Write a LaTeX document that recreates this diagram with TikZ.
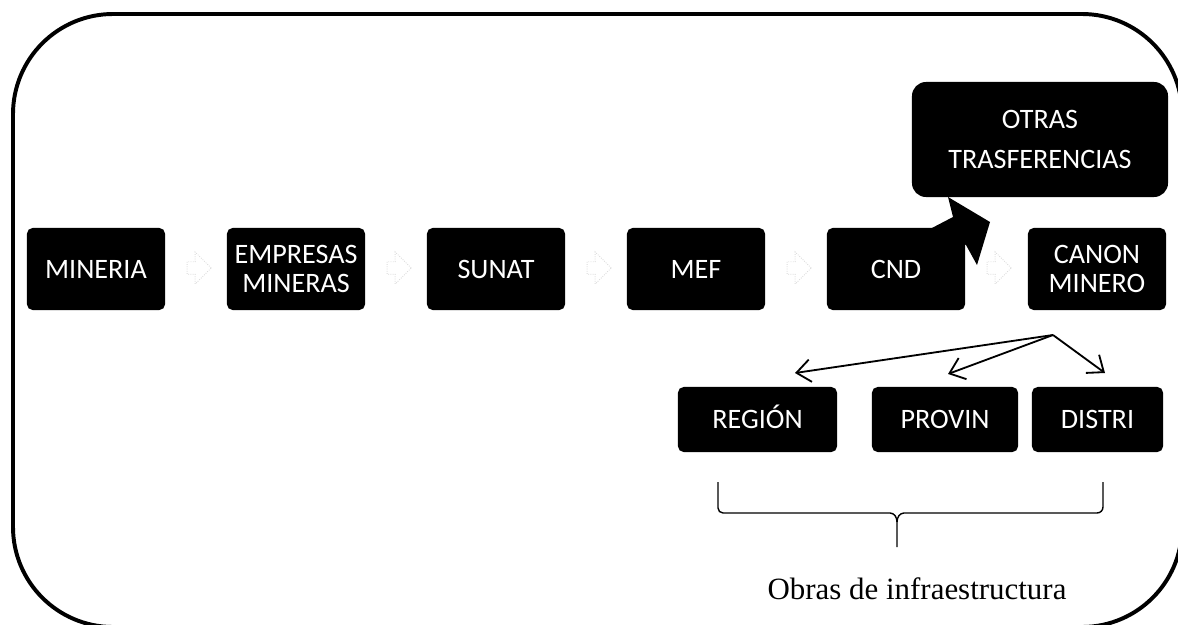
\documentclass[tikz,border=0pt]{standalone}
\usepackage{fontspec}
\setmainfont{Liberation Serif}
\newfontfamily\boxfont{Carlito}
\usetikzlibrary{arrows.meta,shapes.arrows}
\tikzset{
  flowbox/.style={fill=black, text=white, rounded corners=4pt, align=center,
    font=\boxfont\fontsize{20}{21}\selectfont, inner sep=2pt,
    minimum width=3.45cm, minimum height=2.05cm},
  lowbox/.style={flowbox, minimum height=1.625cm, text height=13pt, text depth=0pt},
  faint/.style={shape=single arrow, draw=black!15, densely dotted, line width=0.6pt,
    minimum width=0.8cm, minimum height=0.6cm, single arrow head extend=2pt, inner sep=1pt},
  split/.style={line width=1.3pt, -{Straight Barb[length=10pt,width=16pt]}}
}
\begin{document}
\begin{tikzpicture}[x=0.025cm, y=-0.025cm]
\useasboundingbox (0,0) rectangle (1178,625);
%outer frame
\draw[line width=2.8pt, rounded corners=2.5cm] (13,14) rectangle (1182,627);

%main row of boxes
\node[flowbox] (mineria) at (96,269) {MINERIA};
\node[flowbox] (empresas) at (296,269) {EMPRESAS\\MINERAS};
\node[flowbox] (sunat) at (496,269) {SUNAT};
\node[flowbox] (mef) at (696,269) {MEF};
\node[flowbox] (cnd) at (896,269) {CND};
\node[flowbox] (canon) at (1097,269) {CANON\\MINERO};

%faint arrows between the boxes
\foreach \x/\n in {196/1,396/2,596/3,796/4,996/5}
  \node[faint] (f\n) at (\x,268) {};

%block arrow out of CND
\fill (930,229) -- (953,217) -- (948,197) -- (990,222) -- (977,265) -- (966,245) -- cycle;
\node[flowbox, rounded corners=10pt, minimum width=6.4cm, minimum height=2.875cm,
  font=\boxfont\fontsize{20}{29}\selectfont] (otras) at (1040,139.5) {OTRAS\\TRASFERENCIAS};

%second level
\node[lowbox, minimum width=3.975cm] (region) at (757.5,419.5) {REGIÓN};
\node[lowbox, minimum width=3.65cm] (provin) at (945,419.5) {PROVIN};
\node[lowbox, minimum width=3.275cm] (distri) at (1097.5,419.5) {DISTRI};

\coordinate (fork) at (1053,335);
\coordinate (tregion) at (795,373);
\coordinate (tprovin) at (948,374);
\coordinate (tdistri) at (1105,373);
\foreach \t in {tregion,tprovin,tdistri}
  \draw[split] (fork) -- (\t);

%brace under the second level
\draw[line width=1pt] (718,482) -- (718,508) to[out=-90,in=180] (723,513) -- (890,513)
  to[out=0,in=90] (897,522) -- (897,547);
\draw[line width=1pt] (1103,482) -- (1103,507) to[out=-90,in=0] (1097,513) -- (904,513)
  to[out=180,in=90] (897,522);
\node[font=\fontsize{22}{26}\selectfont] (obras) at (917,589) {Obras de infraestructura};
\end{tikzpicture}
\end{document}
